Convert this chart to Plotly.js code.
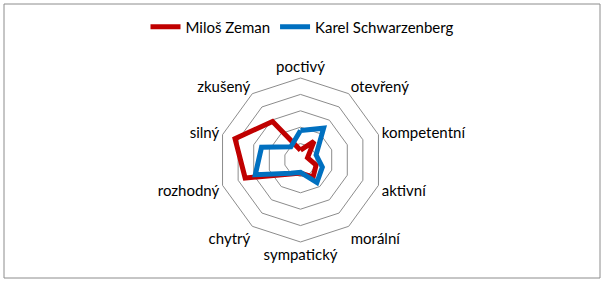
<!DOCTYPE html>
<html>
<head>
<meta charset="utf-8">
<script src="https://cdn.plot.ly/plotly-3.0.1.min.js"></script>
<style>html,body{margin:0;padding:0;background:#fff;}#chart{width:605px;height:285px;}</style>
</head>
<body>
<div id="chart"></div>
<script>
const categories = ["poctivý","otevřený","kompetentní","aktivní","morální","sympatický","chytrý","rozhodný","silný","zkušený"];
const zeman = [0.6, 1.4, 0.45, 1.0, 1.3, 0.8, 1.05, 3.55, 4.2, 2.9];
const schwarzenberg = [1.8, 2.4, 1.0, 1.4, 1.7, 0.75, 1.0, 2.9, 2.5, 1.0];
const seriesNames = ["Miloš Zeman", "Karel Schwarzenberg"];

function closed(a){ return a.concat([a[0]]); }

const font = {family: "Lato, 'Open Sans', sans-serif", size: 15, color: "#000"};

const data = [
  {type: "scatterpolar", mode: "lines", name: seriesNames[0], r: closed(zeman), theta: closed(categories),
   line: {color: "#C00000", width: 5, shape: "linear"}, hoverinfo: "skip"},
  {type: "scatterpolar", mode: "lines", name: seriesNames[1], r: closed(schwarzenberg), theta: closed(categories),
   line: {color: "#0070C0", width: 5, shape: "linear"}, hoverinfo: "skip"}
];

const layout = {
  width: 605, height: 285,
  margin: {l: 0, r: 0, t: 0, b: 0},
  paper_bgcolor: "#fff", plot_bgcolor: "#fff",
  font: font,
  showlegend: true,
  legend: {orientation: "h", x: 0.5, xanchor: "center", y: 0.905, yanchor: "middle", font: font, itemwidth: 30, tracegroupgap: 0},
  polar: {
    domain: {x: [0.3612, 0.6322], y: [0.1509, 0.7263]},
    gridshape: "linear",
    bgcolor: "rgba(0,0,0,0)",
    radialaxis: {range: [0, 5], dtick: 1, tick0: 0, showticklabels: false, ticks: "", showline: false, gridcolor: "#8c8c8c", gridwidth: 1, angle: 90},
    angularaxis: {direction: "clockwise", rotation: 90, showgrid: false, showline: true, linecolor: "#8c8c8c", linewidth: 1, ticks: "", tickfont: font}
  },
  shapes: [
    {type: "rect", xref: "paper", yref: "paper", x0: 4/605, x1: 600/605, y0: 1 - 278/285, y1: 1 - 4/285, line: {color: "#8c8c8c", width: 1}, fillcolor: "rgba(0,0,0,0)"}
  ]
};

Plotly.newPlot("chart", data, layout, {staticPlot: true});
</script>
</body>
</html>
